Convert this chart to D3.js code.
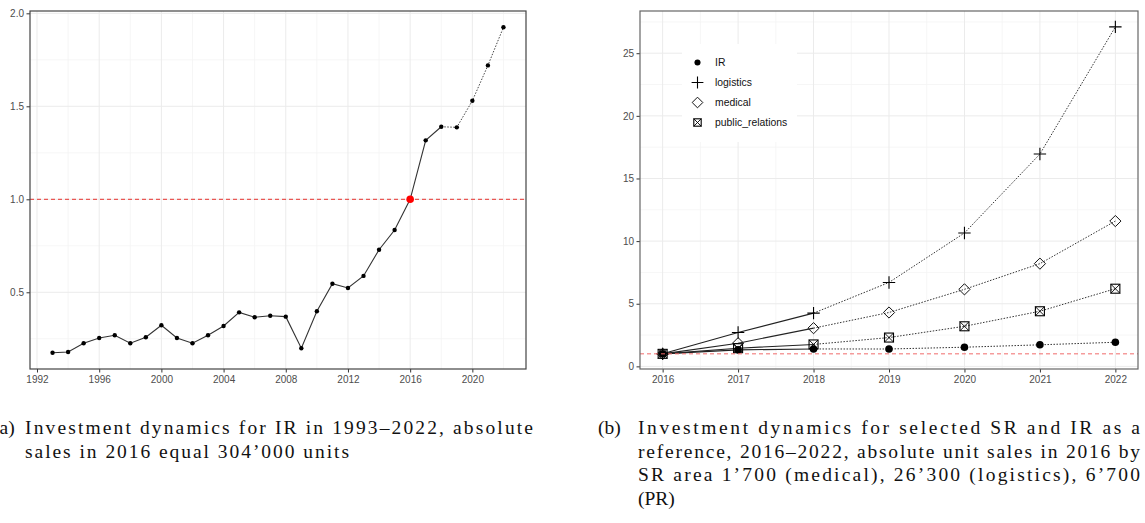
<!DOCTYPE html>
<html>
<head>
<meta charset="utf-8">
<script src="https://cdn.jsdelivr.net/npm/d3@7"></script>
<style>
  body { margin: 0; background: #fff; }
  svg text { font-family: "Liberation Sans", Arial, sans-serif; }
  .cap { font-family: "Liberation Serif", "DejaVu Serif", serif; font-size: 19.5px; fill: #111; }
</style>
</head>
<body>
<div id="chart"></div>
<script>
// panel (a): IR, 1993-2022, relative to 2016
var irYears = [1993,1994,1995,1996,1997,1998,1999,2000,2001,2002,2003,2004,2005,2006,2007,
               2008,2009,2010,2011,2012,2013,2014,2015,2016,2017,2018,2019,2020,2021,2022];
var irValues = [0.175,0.179,0.226,0.254,0.269,0.226,0.258,0.323,0.254,0.226,0.269,0.319,0.392,0.366,0.374,
                0.369,0.199,0.398,0.546,0.523,0.588,0.729,0.835,1.0,1.317,1.39,1.387,1.53,1.72,1.925];
var leftXTicks = [1992,1996,2000,2004,2008,2012,2016,2020];
var leftXMinor = [1994,1998,2002,2006,2010,2014,2018,2022];
var leftYTicks = [0.5,1.0,1.5,2.0];
var leftYMinor = [0.25,0.75,1.25,1.75];

// panel (b): selected SR and IR, 2016-2022
var srYears = [2016,2017,2018,2019,2020,2021,2022];
var seriesNames = ["IR","logistics","medical","public_relations"];
var irRecent = [1,1.317,1.39,1.387,1.53,1.72,1.925];
var logistics = [1,2.7,4.25,6.7,10.65,16.95,27.1];
var medical = [1,1.85,3.05,4.3,6.15,8.2,11.6];
var publicRelations = [1,1.45,1.75,2.3,3.2,4.4,6.2];
var rightYTicks = [0,5,10,15,20,25];
var rightYMinor = [2.5,7.5,12.5,17.5,22.5,27.5];
var rightXMinor = [2016.5,2017.5,2018.5,2019.5,2020.5,2021.5];

var lastActual = 2018;
var baseLine = 1;

var captionA = ["Investment dynamics for IR in 1993\u20132022, absolute",
                "sales in 2016 equal 304\u2019000 units"];
var captionB = ["Investment dynamics for selected SR and IR as a",
                "reference, 2016\u20132022, absolute unit sales in 2016 by",
                "SR area 1\u2019700 (medical), 26\u2019300 (logistics), 6\u2019700",
                "(PR)"];

var W = 1145, H = 523;
var svg = d3.select("#chart").append("svg")
    .attr("width", W).attr("height", H);

var gridMajor = "#ebebeb", gridMinor = "#f4f4f4";

function panel(x, y, xMaj, xMin, yMaj, yMin) {
  var g = svg.append("g");
  var x0 = x.range()[0], x1 = x.range()[1], y0 = y.range()[0], y1 = y.range()[1];
  g.selectAll(".vmin").data(xMin).join("line")
    .attr("x1", d => x(d)).attr("x2", d => x(d)).attr("y1", y0).attr("y2", y1)
    .attr("stroke", gridMinor).attr("stroke-width", 0.8);
  g.selectAll(".hmin").data(yMin).join("line")
    .attr("y1", d => y(d)).attr("y2", d => y(d)).attr("x1", x0).attr("x2", x1)
    .attr("stroke", gridMinor).attr("stroke-width", 0.8);
  g.selectAll(".vmaj").data(xMaj).join("line")
    .attr("x1", d => x(d)).attr("x2", d => x(d)).attr("y1", y0).attr("y2", y1)
    .attr("stroke", gridMajor).attr("stroke-width", 1);
  g.selectAll(".hmaj").data(yMaj).join("line")
    .attr("y1", d => y(d)).attr("y2", d => y(d)).attr("x1", x0).attr("x2", x1)
    .attr("stroke", gridMajor).attr("stroke-width", 1);
  return g;
}

function axes(x, y, xMaj, yMaj, xFmt, yFmt, border) {
  var x0 = x.range()[0], x1 = x.range()[1], y0 = y.range()[0], y1 = y.range()[1];
  var ax = svg.append("g").attr("transform", "translate(0," + y0 + ")")
    .call(d3.axisBottom(x).tickValues(xMaj).tickFormat(xFmt).tickSize(3.5).tickPadding(3));
  var ay = svg.append("g").attr("transform", "translate(" + x0 + ",0)")
    .call(d3.axisLeft(y).tickValues(yMaj).tickFormat(yFmt).tickSize(3.5).tickPadding(2.5));
  [ax, ay].forEach(function (a) {
    a.select(".domain").remove();
    a.selectAll(".tick line").attr("stroke", "#333");
    a.selectAll(".tick text").attr("fill", "#4d4d4d").style("font-size", "10px");
  });
  svg.append("rect").attr("x", x0).attr("y", y1).attr("width", x1 - x0).attr("height", y0 - y1)
    .attr("fill", "none").attr("stroke", border).attr("stroke-width", 1.2);
}

// ---------- panel (a)
var xa = d3.scaleLinear().domain([1991.55, 2023.45]).range([30, 526]);
var ya = d3.scaleLinear().domain([0.0875, 2.0125]).range([369, 11]);
panel(xa, ya, leftXTicks, leftXMinor, leftYTicks, leftYMinor);

var irPts = irYears.map((d, i) => ({x: d, y: irValues[i]}));
var lineA = d3.line().x(d => xa(d.x)).y(d => ya(d.y));
svg.append("path").datum(irPts.filter(d => d.x <= lastActual))
  .attr("d", lineA).attr("fill", "none").attr("stroke", "#333").attr("stroke-width", 1.1);
svg.append("path").datum(irPts.filter(d => d.x >= lastActual))
  .attr("d", lineA).attr("fill", "none").attr("stroke", "#444").attr("stroke-width", 1)
  .attr("stroke-dasharray", "1.5,1.5");
svg.selectAll(".ira").data(irPts).join("circle")
  .attr("cx", d => xa(d.x)).attr("cy", d => ya(d.y)).attr("r", 2.2).attr("fill", "#000");
svg.append("line").attr("x1", 30).attr("x2", 526).attr("y1", ya(baseLine)).attr("y2", ya(baseLine))
  .attr("stroke", "#e8322f").attr("stroke-width", 1).attr("stroke-dasharray", "4,3");
svg.append("circle").attr("cx", xa(2016)).attr("cy", ya(baseLine)).attr("r", 3.8).attr("fill", "#ff0000");
axes(xa, ya, leftXTicks, leftYTicks, d3.format("d"), d3.format(".1f"), "#444");

// ---------- panel (b)
var xb = d3.scaleLinear().domain([2015.7, 2022.3]).range([640, 1138]);
var yb = d3.scaleLinear().domain([-0.21, 28.37]).range([369, 11]);
panel(xb, yb, srYears, rightXMinor, rightYTicks, rightYMinor);

var seriesData = [irRecent, logistics, medical, publicRelations].map(function (vals, k) {
  return {name: seriesNames[k], pts: srYears.map((d, i) => ({x: d, y: vals[i]}))};
});
var lineB = d3.line().x(d => xb(d.x)).y(d => yb(d.y));
seriesData.forEach(function (s) {
  svg.append("path").datum(s.pts.filter(d => d.x <= lastActual))
    .attr("d", lineB).attr("fill", "none").attr("stroke", "#222").attr("stroke-width", 1.1);
  svg.append("path").datum(s.pts.filter(d => d.x >= lastActual))
    .attr("d", lineB).attr("fill", "none").attr("stroke", "#333").attr("stroke-width", 1)
    .attr("stroke-dasharray", "1.5,1.5");
});

function drawShape(g, name, cx, cy, s) {
  if (name === "IR") {
    g.append("circle").attr("cx", cx).attr("cy", cy).attr("r", 3.8 * s).attr("fill", "#000");
  } else if (name === "logistics") {
    var a = 6.2 * s;
    g.append("path").attr("d", "M" + (cx - a) + "," + cy + "H" + (cx + a) + "M" + cx + "," + (cy - a) + "V" + (cy + a))
      .attr("stroke", "#000").attr("stroke-width", 1.1).attr("fill", "none");
  } else if (name === "medical") {
    var r = 5.6 * s;
    g.append("path").attr("d", "M" + cx + "," + (cy - r) + "L" + (cx + r) + "," + cy + "L" + cx + "," + (cy + r) + "L" + (cx - r) + "," + cy + "Z")
      .attr("stroke", "#111").attr("stroke-width", 1).attr("fill", "none");
  } else {
    var h = 4.5 * s;
    g.append("rect").attr("x", cx - h).attr("y", cy - h).attr("width", 2 * h).attr("height", 2 * h)
      .attr("stroke", "#000").attr("stroke-width", 1.1).attr("fill", "none");
    g.append("path").attr("d", "M" + (cx - h) + "," + (cy - h) + "L" + (cx + h) + "," + (cy + h) + "M" + (cx + h) + "," + (cy - h) + "L" + (cx - h) + "," + (cy + h))
      .attr("stroke", "#000").attr("stroke-width", 0.9);
  }
}
var markG = svg.append("g");
seriesData.forEach(function (s) {
  s.pts.forEach(function (d) { drawShape(markG, s.name, xb(d.x), yb(d.y), 1); });
});
svg.append("line").attr("x1", 640).attr("x2", 1138).attr("y1", yb(baseLine)).attr("y2", yb(baseLine))
  .attr("stroke", "#f06a6a").attr("stroke-width", 1).attr("stroke-dasharray", "4,3");
axes(xb, yb, srYears, rightYTicks, d3.format("d"), d3.format("d"), "#666");

// legend
var leg = svg.append("g");
leg.append("rect").attr("x", 682).attr("y", 44).attr("width", 115).attr("height", 98).attr("fill", "#fff");
seriesNames.forEach(function (n, i) {
  var cy = 62.5 + i * 20;
  drawShape(leg, n, 697.5, cy, n === "IR" ? 0.8 : (n === "public_relations" ? 0.82 : 0.95));
  leg.append("text").attr("x", 715).attr("y", cy + 3.8).text(n)
    .style("font-size", "10.4px").attr("fill", "#111");
});

// captions
var capTop = 434, capStep = 23.5;
svg.append("text").attr("class", "cap").attr("x", -7).attr("y", capTop).text("(a)");
captionA.forEach(function (t, i) {
  svg.append("text").attr("class", "cap").attr("x", 25).attr("y", capTop + i * capStep)
    .attr("textLength", i === 0 ? 508 : 324).attr("lengthAdjust", "spacing").text(t);
});
svg.append("text").attr("class", "cap").attr("x", 598).attr("y", capTop).text("(b)");
var capBLen = [502, 502, 502, null];
captionB.forEach(function (t, i) {
  var el = svg.append("text").attr("class", "cap").attr("x", 638).attr("y", capTop + i * capStep).text(t);
  if (capBLen[i]) el.attr("textLength", capBLen[i]).attr("lengthAdjust", "spacing");
});
</script>
</body>
</html>
